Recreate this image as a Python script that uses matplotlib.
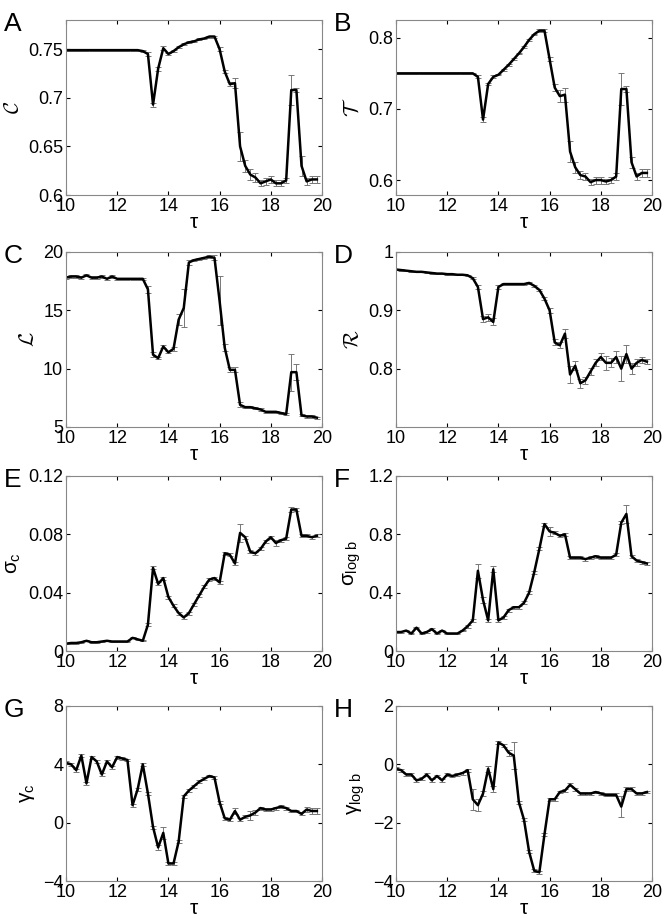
import numpy as np
import matplotlib
matplotlib.use("Agg")
import matplotlib.pyplot as plt

plt.rcParams['font.family'] = ['Liberation Sans', 'DejaVu Sans']
plt.rcParams['mathtext.fontset'] = 'custom'
plt.rcParams['mathtext.rm'] = 'Liberation Sans'
plt.rcParams['mathtext.it'] = 'Liberation Sans'
plt.rcParams['mathtext.cal'] = 'cmsy10'

tau = [10.0 + 0.2 * i for i in range(50)]

C_vals = [0.749]*14 + [0.749, 0.748, 0.745, 0.693, 0.730, 0.751, 0.745, 0.748, 0.752, 0.755,
          0.757, 0.758, 0.760, 0.761, 0.763, 0.763, 0.750, 0.727, 0.714, 0.715,
          0.650, 0.630, 0.621, 0.618, 0.612, 0.614, 0.616, 0.612, 0.612, 0.615,
          0.708, 0.708, 0.630, 0.614, 0.616, 0.616]
C_err = [0.0005]*14 + [0.0005, 0.001, 0.002, 0.002, 0.002, 0.002, 0.001, 0.001, 0.001, 0.001,
         0.001, 0.001, 0.001, 0.001, 0.001, 0.001, 0.002, 0.002, 0.002, 0.005,
         0.015, 0.006, 0.006, 0.005, 0.003, 0.004, 0.004, 0.003, 0.003, 0.003,
         0.015, 0.002, 0.010, 0.004, 0.004, 0.004]

T_vals = [0.75]*15 + [0.75, 0.745, 0.685, 0.735, 0.745, 0.748, 0.755, 0.762, 0.770, 0.778,
          0.787, 0.797, 0.805, 0.810, 0.810, 0.770, 0.730, 0.718, 0.720, 0.640,
          0.618, 0.607, 0.605, 0.597, 0.600, 0.600, 0.598, 0.600, 0.605, 0.728,
          0.728, 0.625, 0.605, 0.610, 0.610]
T_err = [0.0005]*15 + [0.001, 0.002, 0.003, 0.002, 0.002, 0.001, 0.001, 0.001, 0.001, 0.001,
         0.001, 0.001, 0.001, 0.002, 0.002, 0.003, 0.005, 0.008, 0.010, 0.015,
         0.008, 0.006, 0.005, 0.004, 0.005, 0.005, 0.004, 0.004, 0.005, 0.022,
         0.004, 0.008, 0.005, 0.005, 0.005]

L_vals = [17.8, 17.9, 17.9, 17.8, 18.0, 17.8, 17.8, 17.9, 17.7, 17.9,
          17.7, 17.7, 17.7, 17.7, 17.7, 17.7, 16.8, 11.2, 10.9, 11.9,
          11.4, 11.7, 14.2, 15.2, 19.1, 19.3, 19.4, 19.5, 19.6, 19.5,
          15.8, 11.8, 9.9, 9.9, 6.9, 6.7, 6.7, 6.6, 6.5, 6.3,
          6.3, 6.3, 6.2, 6.1, 9.7, 9.7, 6.0, 5.9, 5.9, 5.8]
L_err = [0.1]*16 + [0.3, 0.2, 0.1, 0.1, 0.1, 0.2, 0.5, 1.6, 0.2, 0.1,
         0.1, 0.1, 0.1, 0.2, 2.1, 0.3, 0.2, 0.2, 0.2, 0.1,
         0.1, 0.1, 0.1, 0.1, 0.1, 0.1, 0.1, 0.1, 1.6, 0.7,
         0.1, 0.1, 0.1, 0.1]

R_vals = [0.970, 0.969, 0.968, 0.967, 0.966, 0.966, 0.965, 0.964, 0.963, 0.963,
          0.962, 0.962, 0.961, 0.961, 0.960, 0.955, 0.940, 0.885, 0.888, 0.880,
          0.940, 0.945, 0.945, 0.945, 0.945, 0.945, 0.947, 0.942, 0.935, 0.920,
          0.900, 0.845, 0.840, 0.860, 0.790, 0.805, 0.775, 0.780, 0.795, 0.810,
          0.820, 0.810, 0.810, 0.820, 0.800, 0.825, 0.800, 0.810, 0.815, 0.812]
R_err = [0.001]*15 + [0.002, 0.004, 0.005, 0.006, 0.006, 0.003, 0.002, 0.002, 0.002, 0.002,
         0.002, 0.002, 0.002, 0.002, 0.003, 0.004, 0.005, 0.005, 0.008, 0.015,
         0.008, 0.008, 0.006, 0.006, 0.006, 0.006, 0.012, 0.008, 0.010, 0.022,
         0.015, 0.010, 0.006, 0.005, 0.004]

Sc_vals = [0.005, 0.0055, 0.0055, 0.006, 0.007, 0.006, 0.006, 0.0065, 0.007, 0.0065,
           0.0065, 0.0065, 0.0065, 0.009, 0.008, 0.007, 0.018, 0.057, 0.046, 0.050,
           0.037, 0.031, 0.026, 0.023, 0.026, 0.032, 0.038, 0.044, 0.049, 0.050,
           0.047, 0.067, 0.066, 0.060, 0.081, 0.078, 0.068, 0.067, 0.070, 0.075,
           0.078, 0.074, 0.076, 0.077, 0.097, 0.097, 0.079, 0.079, 0.078, 0.079]
Sc_err = [0.0004]*16 + [0.001, 0.001, 0.001, 0.001, 0.001, 0.001, 0.001, 0.001, 0.001, 0.001,
          0.001, 0.001, 0.001, 0.001, 0.001, 0.001, 0.001, 0.001, 0.006, 0.001,
          0.001, 0.001, 0.001, 0.001, 0.001, 0.002, 0.001, 0.001, 0.002, 0.001,
          0.001, 0.001, 0.001, 0.001]

Sb_vals = [0.13, 0.13, 0.14, 0.12, 0.16, 0.12, 0.13, 0.15, 0.12, 0.14,
           0.12, 0.12, 0.12, 0.14, 0.17, 0.21, 0.55, 0.35, 0.21, 0.56,
           0.21, 0.23, 0.28, 0.30, 0.30, 0.33, 0.40, 0.54, 0.70, 0.87,
           0.82, 0.81, 0.79, 0.80, 0.64, 0.64, 0.64, 0.63, 0.64, 0.65,
           0.64, 0.64, 0.64, 0.66, 0.88, 0.94, 0.65, 0.62, 0.61, 0.60]
Sb_err = [0.005]*14 + [0.01, 0.01, 0.05, 0.02, 0.01, 0.02, 0.01, 0.01, 0.01, 0.01,
          0.01, 0.01, 0.01, 0.01, 0.01, 0.01, 0.03, 0.01, 0.01, 0.01,
          0.01, 0.01, 0.01, 0.01, 0.01, 0.01, 0.01, 0.01, 0.01, 0.01,
          0.01, 0.06, 0.01, 0.01, 0.01, 0.01]

Gc_vals = [4.1, 4.0, 3.6, 4.6, 2.7, 4.5, 4.2, 3.3, 4.2, 3.8,
           4.5, 4.4, 4.3, 1.2, 2.3, 4.0, 2.0, -0.3, -1.7, -0.7,
           -2.8, -2.8, -1.3, 1.8, 2.2, 2.5, 2.8, 3.0, 3.2, 3.1,
           1.4, 0.3, 0.2, 0.8, 0.2, 0.4, 0.5, 0.7, 1.0, 0.9,
           0.9, 1.0, 1.1, 1.0, 0.8, 0.8, 0.6, 0.9, 0.8, 0.8]
Gc_err = [0.1]*18 + [0.2, 0.4, 0.1, 0.1, 0.1, 0.1, 0.1, 0.1, 0.1, 0.1,
          0.1, 0.1, 0.1, 0.1, 0.1, 0.2, 0.1, 0.1, 0.3, 0.2,
          0.1, 0.1, 0.1, 0.1, 0.1, 0.1, 0.1, 0.1, 0.1, 0.2,
          0.2, 0.2]

Gb_vals = [-0.15, -0.2, -0.35, -0.35, -0.55, -0.5, -0.35, -0.55, -0.4, -0.55,
           -0.35, -0.4, -0.35, -0.3, -0.2, -1.2, -1.4, -1.0, -0.15, -0.85,
           0.75, 0.65, 0.4, 0.3, -1.3, -1.9, -3.0, -3.65, -3.7, -2.4,
           -1.2, -1.2, -0.95, -0.9, -0.7, -0.85, -1.0, -1.0, -1.0, -0.95,
           -1.0, -1.05, -1.05, -1.05, -1.45, -0.85, -0.85, -1.0, -1.0, -0.95]
Gb_err = [0.05]*15 + [0.35, 0.2, 0.1, 0.1, 0.1, 0.05, 0.05, 0.1, 0.45, 0.05,
          0.05, 0.05, 0.05, 0.05, 0.05, 0.05, 0.05, 0.05, 0.05, 0.05,
          0.05, 0.05, 0.05, 0.05, 0.05, 0.05, 0.05, 0.05, 0.05, 0.35,
          0.08, 0.08, 0.05, 0.05, 0.05]

panels = [
    ("A", C_vals, C_err, r"$\mathcal{C}$", (0.6, 0.78), [0.6, 0.65, 0.7, 0.75], ["0.6", "0.65", "0.7", "0.75"]),
    ("B", T_vals, T_err, r"$\mathcal{T}$", (0.579, 0.825), [0.6, 0.7, 0.8], ["0.6", "0.7", "0.8"]),
    ("C", L_vals, L_err, r"$\mathcal{L}$", (5, 20), [5, 10, 15, 20], ["5", "10", "15", "20"]),
    ("D", R_vals, R_err, r"$\mathcal{R}$", (0.7, 1.0), [0.8, 0.9, 1.0], ["0.8", "0.9", "1"]),
    ("E", Sc_vals, Sc_err, r"$\sigma_\mathrm{c}$", (0, 0.12), [0, 0.04, 0.08, 0.12], ["0", "0.04", "0.08", "0.12"]),
    ("F", Sb_vals, Sb_err, r"$\sigma_\mathrm{log\ b}$", (0, 1.2), [0, 0.4, 0.8, 1.2], ["0", "0.4", "0.8", "1.2"]),
    ("G", Gc_vals, Gc_err, r"$\gamma_\mathrm{c}$", (-4, 8), [-4, 0, 4, 8], ["\u22124", "0", "4", "8"]),
    ("H", Gb_vals, Gb_err, r"$\gamma_\mathrm{log\ b}$", (-4, 2), [-4, -2, 0, 2], ["\u22124", "\u22122", "0", "2"]),
]

W, H = 667, 919
fig = plt.figure(figsize=(W/100, H/100), dpi=100)
lefts = [66, 396]
tops = [20, 252, 476, 706]
aw, ah = 256, 175

for i, (lab, vals, err, ylab, ylim, yt, ytl) in enumerate(panels):
    r, c = divmod(i, 2)
    x0 = lefts[c]; y0 = tops[r]
    ax = fig.add_axes([x0/W, 1 - (y0+ah)/H, aw/W, ah/H])
    ax.errorbar(tau, vals, yerr=err, color='black', lw=1.8, ecolor='#777777',
                elinewidth=0.7, capsize=2.5, capthick=0.7)
    ax.set_xlim(10, 20)
    ax.set_ylim(*ylim)
    ax.set_xticks([10, 12, 14, 16, 18, 20])
    ax.set_yticks(yt)
    ax.set_yticklabels(ytl)
    ax.tick_params(labelsize=13, direction='in', length=3, top=True, right=True, pad=2)
    for s in ax.spines.values():
        s.set_color('#888888')
        s.set_linewidth(0.8)
    ax.set_xlabel("\u03c4", fontsize=15, labelpad=-1)
    ax.set_ylabel(ylab, fontsize=15, labelpad=4)
    fig.text((x0 - 62)/W, 1 - (y0 + 4)/H, lab, fontsize=19, va='center', ha='left')

fig.savefig("out.png", dpi=100)
